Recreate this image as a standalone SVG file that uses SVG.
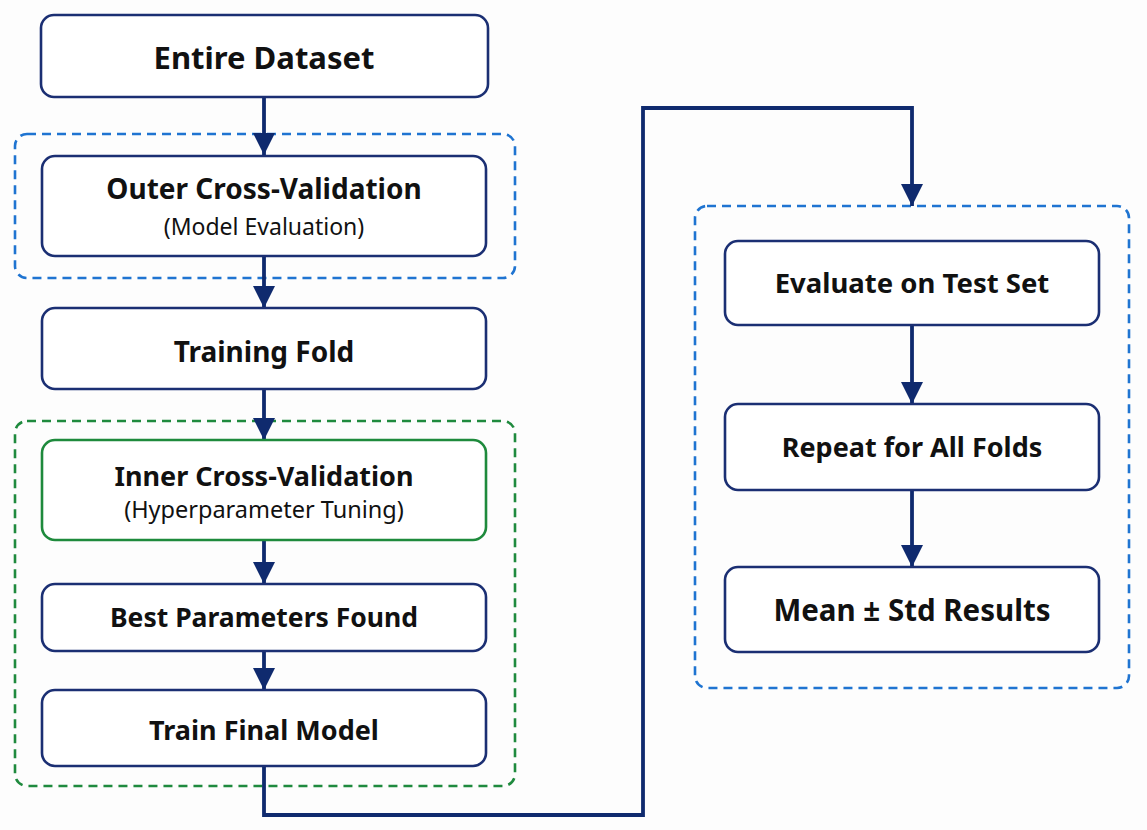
<svg xmlns="http://www.w3.org/2000/svg" width="1147" height="830" viewBox="0 0 1147 830">
<style>
.box{fill:#ffffff;stroke:#1b2f73;stroke-width:2.6}
.gbox{fill:#ffffff;stroke:#1e8a3c;stroke-width:2.6}
.bdash{fill:none;stroke:#1f74d1;stroke-width:2.6;stroke-dasharray:9 6}
.gdash{fill:none;stroke:#1f8a3e;stroke-width:2.6;stroke-dasharray:9 6}
.t{font-family:"Noto Sans","Open Sans","Liberation Sans",sans-serif;font-weight:700;fill:#111;text-anchor:middle}
.s{font-family:"Noto Sans","Open Sans","Liberation Sans",sans-serif;font-weight:400;fill:#111;text-anchor:middle}
.c{fill:none;stroke:#0f2a6e;stroke-width:3.8}
</style>
<defs>
<marker id="ah" viewBox="0 0 22 22" refX="22" refY="11" markerWidth="22" markerHeight="22" markerUnits="userSpaceOnUse" orient="auto">
<path d="M0,0 L22,11 L0,22 Z" fill="#0f2a6e"/>
</marker>
</defs>
<rect width="1147" height="830" fill="#fdfdfd"/>
<g id="outer-group"><rect class="bdash" x="15" y="134" width="500" height="144" rx="12"/></g>
<g id="inner-group"><rect class="gdash" x="15" y="421" width="500" height="365" rx="12"/></g>
<g id="results-group"><rect class="bdash" x="695" y="206" width="434" height="482" rx="12"/></g>
<g id="connectors">
<line class="c" x1="264" y1="97" x2="264" y2="155" marker-end="url(#ah)"/>
<line class="c" x1="264" y1="256" x2="264" y2="308" marker-end="url(#ah)"/>
<line class="c" x1="264" y1="389" x2="264" y2="440" marker-end="url(#ah)"/>
<line class="c" x1="264" y1="540" x2="264" y2="584" marker-end="url(#ah)"/>
<line class="c" x1="264" y1="652" x2="264" y2="690" marker-end="url(#ah)"/>
<polyline class="c" points="264,765 264,815 643,815 643,108 912,108 912,206" marker-end="url(#ah)"/>
<line class="c" x1="912" y1="325" x2="912" y2="404" marker-end="url(#ah)"/>
<line class="c" x1="912" y1="490" x2="912" y2="567" marker-end="url(#ah)"/>
</g>
<g id="entire-dataset"><rect class="box" x="41" y="15" width="447" height="82" rx="13"/><text class="t" x="264" y="69" font-size="31">Entire Dataset</text></g>
<g id="outer-cv"><rect class="box" x="42" y="156" width="444" height="100" rx="13"/><text class="t" x="264" y="199" font-size="28">Outer Cross-Validation</text><text class="s" x="264" y="235" font-size="23">(Model Evaluation)</text></g>
<g id="training-fold"><rect class="box" x="42" y="308" width="444" height="81" rx="13"/><text class="t" x="264" y="362" font-size="28">Training Fold</text></g>
<g id="inner-cv"><rect class="gbox" x="42" y="440" width="444" height="100" rx="13"/><text class="t" x="264" y="486" font-size="27">Inner Cross-Validation</text><text class="s" x="264" y="518" font-size="23.5">(Hyperparameter Tuning)</text></g>
<g id="best-params"><rect class="box" x="42" y="584" width="444" height="67" rx="13"/><text class="t" x="264" y="627" font-size="26.5">Best Parameters Found</text></g>
<g id="train-final"><rect class="box" x="42" y="690" width="444" height="76" rx="13"/><text class="t" x="264" y="740" font-size="27">Train Final Model</text></g>
<g id="evaluate"><rect class="box" x="725" y="241" width="374" height="84" rx="13"/><text class="t" x="912" y="293" font-size="27.5">Evaluate on Test Set</text></g>
<g id="repeat"><rect class="box" x="725" y="404" width="374" height="86" rx="13"/><text class="t" x="912" y="457" font-size="27">Repeat for All Folds</text></g>
<g id="mean-std"><rect class="box" x="725" y="567" width="374" height="85" rx="13"/><text class="t" x="912" y="621" font-size="29.5">Mean ± Std Results</text></g>
</svg>
